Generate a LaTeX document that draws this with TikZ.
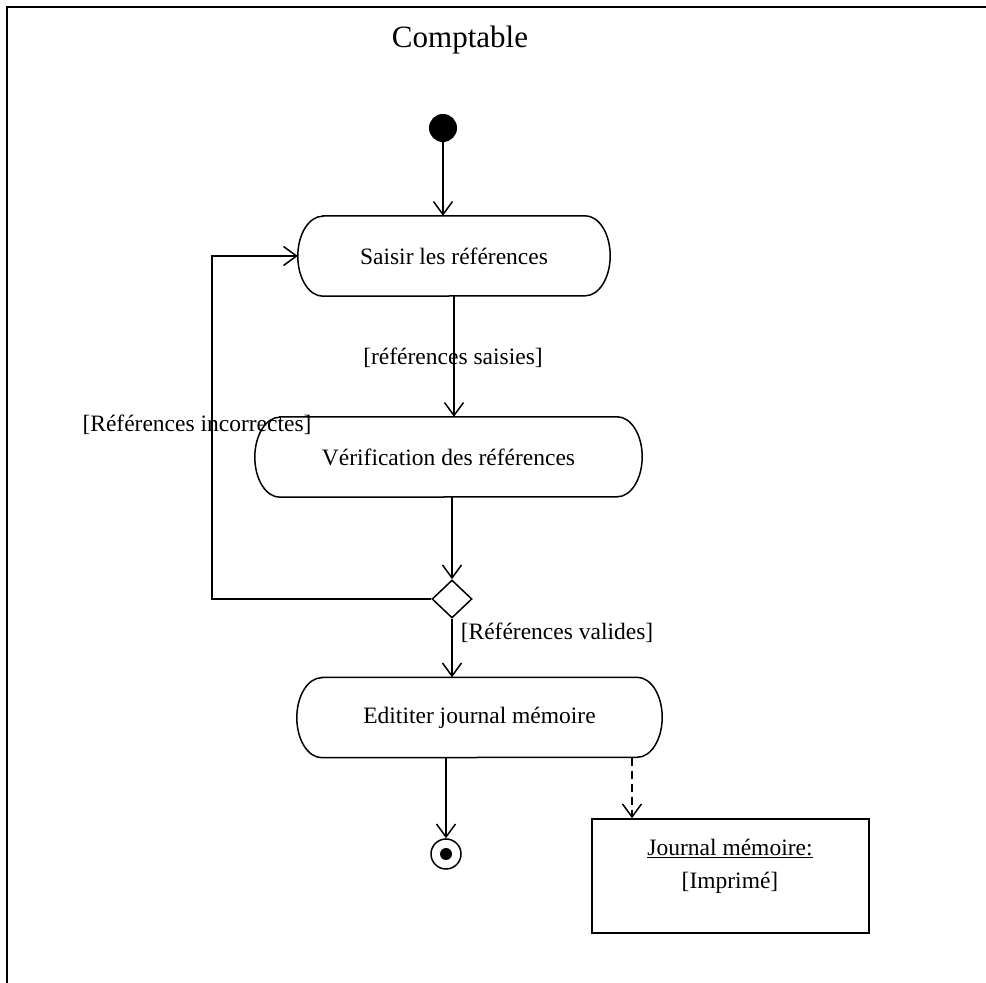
\documentclass[tikz,border=0pt]{standalone}
\usepackage{fontspec}
\setmainfont{Liberation Serif}
\usetikzlibrary{arrows.meta,shapes.geometric}
\newcommand\actoutline[1]{\draw[line width=1.5pt] ([xshift=25pt]#1.north west) -- ([xshift=-25pt]#1.north east) arc[start angle=90,end angle=-90,x radius=25pt,y radius=40pt] -- ([xshift=25pt]#1.south west) arc[start angle=270,end angle=90,x radius=25pt,y radius=40pt] -- cycle;}
\begin{document}
\begin{tikzpicture}[x=1pt,y=1pt,
  txt/.style={font=\fontsize{23.5}{27}\selectfont, inner sep=0pt},
  actbox/.style={txt, minimum height=80pt},
  arr/.style={-{Straight Barb[length=13pt,width=19pt]}, line width=1.5pt},
  ln/.style={line width=1.5pt}]
\useasboundingbox (0,0) rectangle (986,983);
% frame
\draw[line width=2pt] (7,0) -- (7,976) -- (986,976);
\node[font=\fontsize{31}{36}\selectfont, inner sep=0pt] (title) at (460,943) {Comptable};
% nodes
\node[circle, fill=black, minimum size=28pt, inner sep=0pt] (start) at (443,855) {};
\node[actbox, minimum width=312pt] (s) at (454,727) {Saisir les références};
\actoutline{s}
\node[actbox, minimum width=387pt] (v) at (448.5,526) {Vérification des références};
\actoutline{v}
\node[diamond, draw, line width=1.5pt, minimum width=40pt, minimum height=38pt, inner sep=0pt] (d) at (452,384) {};
\node[actbox, minimum width=365pt] (e) at (479.5,265.5) {Edititer journal mémoire};
\actoutline{e}
\node[circle, draw, line width=1.5pt, minimum size=30pt, inner sep=0pt] (f) at (446,129) {};
\fill (f) circle (6pt);
\node[draw, line width=1.5pt, minimum width=277pt, minimum height=114pt, inner sep=0pt] (o) at (730.5,107) {};
\node[txt] (o1) at (730,135) {\underline{Journal mémoire:}};
\node[txt] (o2) at (730,100) {[Imprimé]};
% connectors
\draw[arr] (start) -- (start |- s.north);
\draw[arr] (s.south) -- (v.north -| s.south);
\draw[arr] (v.south -| d.north) -- (d.north);
\draw[arr] (d.south) -- (e.north -| d.south);
\coordinate (lp) at (212,727);
\draw[arr] (d.west) -| (lp) -- (s.west);
\draw[arr] (e.south -| f.north) -- (f.north);
\coordinate (dq) at (632,0);
\draw[arr, dash pattern=on 8pt off 5pt] (e.south -| dq) -- (o.north -| dq);
% labels
\node[txt] (l1) at (453,625) {[références saisies]};
\node[txt] (l2) at (197,558) {[Références incorrectes]};
\node[txt] (l3) at (557,350) {[Références valides]};
\end{tikzpicture}
\end{document}
